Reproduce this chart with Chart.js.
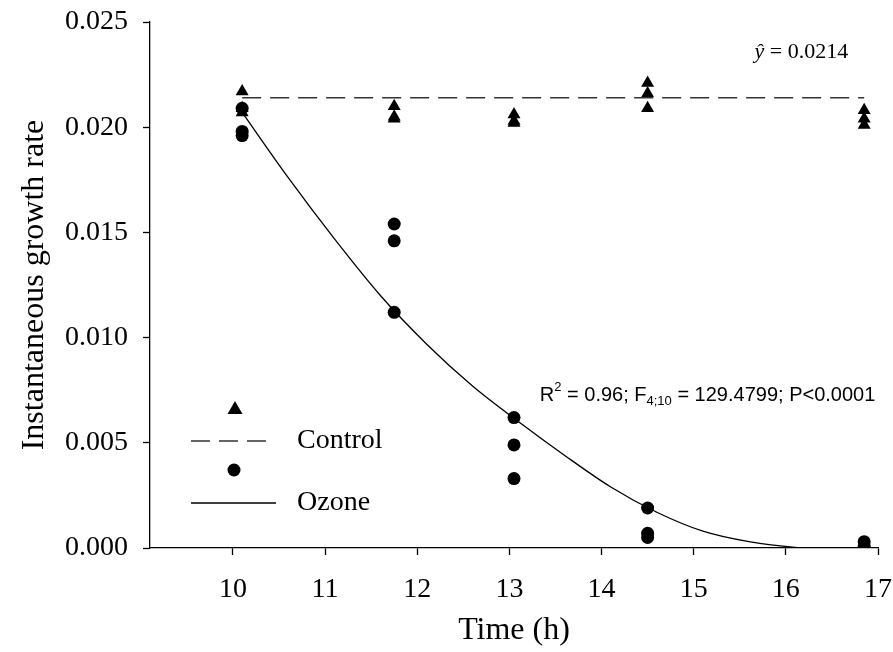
<!DOCTYPE html>
<html>
<head>
<meta charset="utf-8">
<script src="https://cdn.jsdelivr.net/npm/chart.js@4"></script>
<style>
  html, body { margin: 0; padding: 0; background: #ffffff; }
  #wrap { width: 893px; height: 652px; }
</style>
</head>
<body>
<div id="wrap"><canvas id="c" width="893" height="652"></canvas></div>
<script>
// ---- data ----
const sampleTimes = [10.1, 11.75, 13.05, 14.5, 16.85];
const controlRep1 = [0.0217, 0.0210, 0.0206, 0.0221, 0.0208];
const controlRep2 = [0.0209, 0.0205, 0.0203, 0.0216, 0.0204];
const controlRep3 = [0.0207, 0.0204, 0.0202, 0.0209, 0.0201];
const ozoneRep1 = [0.0209, 0.0154, 0.0062, 0.0019, 0.0003];
const ozoneRep2 = [0.0198, 0.0146, 0.0049, 0.0007, 0.0001];
const ozoneRep3 = [0.0196, 0.0112, 0.0033, 0.0005, 0.0000];
const controlFitX = [10.1, 16.85];
const controlFitY = [0.0214, 0.0214];
const ozoneFitX = [10.1, 10.6, 11.1, 11.6, 12.1, 12.6, 13.1, 13.6, 14.1, 14.6, 15.1, 15.6, 16.1, 16.3];
const ozoneFitY = [0.0207, 0.0176, 0.0147, 0.0120, 0.0097, 0.0077, 0.0060, 0.0044, 0.0029, 0.0017, 0.0008, 0.0003, 0.00003, 0];
const xTicks = [10, 11, 12, 13, 14, 15, 16, 17];
const yTicks = [0, 0.005, 0.010, 0.015, 0.020, 0.025];
const xTitle = 'Time (h)';
const yTitle = 'Instantaneous growth rate';
const legendNames = ['Control', 'Ozone'];

function pts(xs, ys) { return xs.map((x, i) => ({ x: x, y: ys[i] })); }
function reps(xs, arrs) { const out = []; arrs.forEach(a => a.forEach((v, i) => out.push({ x: xs[i], y: v }))); return out; }

const SERIF = '"Liberation Serif", "Times New Roman", serif';
const SANS = '"Liberation Sans", Arial, sans-serif';

const annotations = {
  id: 'annotations',
  afterDraw(chart) {
    const ctx = chart.ctx;
    const xs = chart.scales.x, ys = chart.scales.y;
    ctx.save();
    ctx.fillStyle = '#000';
    ctx.textBaseline = 'middle';
    // y-hat label
    let px = xs.getPixelForValue(15.66), py = ys.getPixelForValue(0.02357);
    ctx.font = 'italic 22px ' + SERIF;
    ctx.textAlign = 'left';
    ctx.fillText('\u0177', px, py);
    const yw = ctx.measureText('\u0177').width;
    ctx.font = '22px ' + SERIF;
    ctx.fillText(' = 0.0214', px + yw, py);
    // R2 label
    px = xs.getPixelForValue(13.33); py = ys.getPixelForValue(0.00727);
    const parts = [['R', 0, 20], ['2', -8, 13], [' = 0.96; F', 0, 20], ['4;10', 6, 13], [' = 129.4799; P<0.0001', 0, 20]];
    let cx = px;
    parts.forEach(p => {
      ctx.font = p[2] + 'px ' + SANS;
      ctx.fillText(p[0], cx, py + p[1]);
      cx += ctx.measureText(p[0]).width;
    });
    // legend
    ctx.fillStyle = '#000';
    ctx.beginPath();
    ctx.moveTo(235, 401); ctx.lineTo(242.5, 414); ctx.lineTo(227.5, 414); ctx.closePath(); ctx.fill();
    ctx.strokeStyle = '#333'; ctx.lineWidth = 1.5; ctx.setLineDash([19, 9]);
    ctx.beginPath(); ctx.moveTo(191, 441); ctx.lineTo(270, 441); ctx.stroke();
    ctx.setLineDash([]);
    ctx.beginPath(); ctx.arc(234, 470, 6.5, 0, Math.PI * 2); ctx.fill();
    ctx.strokeStyle = '#000'; ctx.lineWidth = 1.3;
    ctx.beginPath(); ctx.moveTo(191, 503); ctx.lineTo(276, 503); ctx.stroke();
    ctx.font = '28px ' + SERIF; ctx.textAlign = 'left';
    ctx.fillText(legendNames[0], 297, 441);
    ctx.fillText(legendNames[1], 297, 503);
    ctx.restore();
  }
};

new Chart(document.getElementById('c'), {
  type: 'scatter',
  data: {
    datasets: [
      { label: 'Control fit', data: pts(controlFitX, controlFitY), showLine: true, borderColor: '#333', borderWidth: 1.5, borderDash: [19, 9], pointRadius: 0, fill: false },
      { label: 'Ozone fit', data: pts(ozoneFitX, ozoneFitY), showLine: true, borderColor: '#000', borderWidth: 1.3, pointRadius: 0, tension: 0.4, cubicInterpolationMode: 'monotone', fill: false },
      { label: 'Control', data: reps(sampleTimes, [controlRep1, controlRep2, controlRep3]), pointStyle: 'triangle', pointRadius: 7.5, backgroundColor: '#000', borderColor: '#000', borderWidth: 0 },
      { label: 'Ozone', data: reps(sampleTimes, [ozoneRep1, ozoneRep2, ozoneRep3]), pointStyle: 'circle', pointRadius: 6.5, backgroundColor: '#000', borderColor: '#000', borderWidth: 0 }
    ]
  },
  options: {
    responsive: false,
    animation: false,
    devicePixelRatio: 1,
    layout: { padding: { top: 22, right: 15, left: 0, bottom: 0 } },
    plugins: { legend: { display: false }, tooltip: { enabled: false } },
    scales: {
      x: {
        type: 'linear', min: 9.1, max: 17,
        afterBuildTicks: s => { s.ticks = xTicks.map(v => ({ value: v })); },
        afterFit: s => { s.height = 104; s.paddingLeft = 0; s.paddingRight = 0; },
        grid: { display: true, drawOnChartArea: false, drawTicks: true, tickLength: 7, tickColor: '#000', tickWidth: 1.3 },
        border: { display: true, color: '#000', width: 1.3 },
        ticks: { color: '#000', font: { family: SERIF, size: 28 }, padding: 18, maxRotation: 0, autoSkip: false, callback: v => String(v) },
        title: { display: true, text: xTitle, color: '#000', font: { family: SERIF, size: 32 }, padding: { top: 0, bottom: 2 } }
      },
      y: {
        type: 'linear', min: 0, max: 0.025,
        afterBuildTicks: s => { s.ticks = yTicks.map(v => ({ value: v })); },
        afterFit: s => { s.width = 150; s.paddingTop = 0; s.paddingBottom = 0; },
        grid: { display: true, drawOnChartArea: false, drawTicks: true, tickLength: 7, tickColor: '#000', tickWidth: 1.3 },
        border: { display: true, color: '#000', width: 1.3 },
        ticks: { color: '#000', font: { family: SERIF, size: 28 }, padding: 15, autoSkip: false, callback: v => Number(v).toFixed(3) },
        title: { display: true, text: yTitle, color: '#000', font: { family: SERIF, size: 32 }, padding: { top: 15, bottom: 0 } }
      }
    }
  },
  plugins: [annotations]
});
</script>
</body>
</html>
